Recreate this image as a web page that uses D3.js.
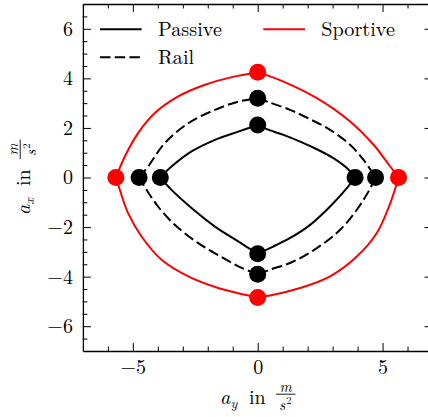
<!DOCTYPE html>
<html>
<head>
<meta charset="utf-8">
<script src="https://cdn.jsdelivr.net/npm/d3@7"></script>
<style>
html,body{margin:0;padding:0;background:#fff;}
svg{display:block;}
</style>
</head>
<body>
<svg id="chart" width="428" height="417"></svg>
<script>
// ---- data (a_y, a_x) in m/s^2, loops go clockwise starting at the top vertex ----
const passiveLoop = [
  [0, 2.12], [0.36, 1.95], [1.03, 1.72], [1.70, 1.45], [2.37, 1.14], [3.03, 0.78], [3.57, 0.38],
  [3.9, 0], [3.57, -0.43], [2.9, -1.17], [2.10, -1.91], [1.30, -2.44], [0.49, -2.85],
  [0, -3.08], [-0.78, -2.58], [-1.71, -1.98], [-2.65, -1.23], [-3.45, -0.5],
  [-3.9, 0], [-3.45, 0.44], [-2.65, 1.05], [-1.71, 1.52], [-0.78, 1.85],
  [0, 2.12]
];
const railLoop = [
  [0, 3.2], [0.49, 3.02], [1.30, 2.73], [2.10, 2.35], [2.9, 1.92], [3.70, 1.32], [4.24, 0.71],
  [4.72, 0], [4.44, -0.56], [3.97, -1.30], [3.3, -2.11], [2.37, -2.85], [1.43, -3.39], [0.49, -3.72],
  [0, -3.9], [-0.64, -3.65], [-1.44, -3.21], [-2.38, -2.65], [-3.32, -1.91], [-3.99, -1.17], [-4.45, -0.5],
  [-4.75, 0], [-4.39, 0.44], [-3.72, 1.39], [-2.78, 2.19], [-1.71, 2.73], [-0.78, 3.06],
  [0, 3.2]
];
const sportiveLoop = [
  [0, 4.25], [1.03, 3.87], [2.37, 3.2], [3.70, 2.26], [4.64, 1.32], [5.11, 0.71],
  [5.64, 0], [5.31, -1.03], [4.77, -2.24], [3.97, -3.19], [2.90, -3.99], [1.70, -4.46], [0.63, -4.73],
  [0, -4.84], [-0.51, -4.73], [-1.58, -4.46], [-2.78, -3.99], [-3.85, -3.32], [-4.65, -2.38], [-5.19, -1.44], [-5.52, -0.5],
  [-5.68, 0], [-5.32, 0.85], [-4.79, 1.79], [-4.12, 2.6], [-3.18, 3.27], [-2.11, 3.74], [-1.04, 4.05],
  [0, 4.25]
];
const seriesNames = ["Passive", "Rail", "Sportive"];
const xTicks = [-5, 0, 5];
const xMinorTicks = [-7, -6, -4, -3, -2, -1, 1, 2, 3, 4, 6, 7];
const yTicks = [-6, -4, -2, 0, 2, 4, 6];
const yMinorTicks = [-6.5, -5.5, -5, -4.5, -3.5, -3, -2.5, -1.5, -1, -0.5, 0.5, 1, 1.5, 2.5, 3, 3.5, 4.5, 5, 5.5, 6.5];
const xDomain = [-7, 7];
const yDomain = [-7, 7];

// ---- layout / style ----
const FONT = '"Latin Modern Roman","CMU Serif","Liberation Serif",serif';
const svg = d3.select("#chart");
const x = d3.scaleLinear().domain(xDomain).range([82.9, 432.5]);
const y = d3.scaleLinear().domain(yDomain).range([351, 4]);
const styles = {
  Passive: {color: "#000", dash: null},
  Rail: {color: "#000", dash: "10.5,4.2"},
  Sportive: {color: "#ff0000", dash: null}
};
const loops = {Passive: passiveLoop, Rail: railLoop, Sportive: sportiveLoop};

// ---- axes (ticks inward on all sides) ----
const fmt = d3.format("");
function addAxis(make, transform, major, minor, showLabels, pad) {
  const gMinor = svg.append("g").attr("transform", transform)
    .call(make().tickValues(minor).tickSizeInner(-4.5).tickSizeOuter(0).tickFormat(""));
  gMinor.select(".domain").remove();
  const g = svg.append("g").attr("transform", transform)
    .call(make().tickValues(major).tickSizeInner(-8).tickSizeOuter(0).tickPadding(pad)
      .tickFormat(showLabels ? fmt : ""));
  g.attr("font-family", FONT).attr("font-size", 20);
  g.select(".domain").attr("stroke-width", 1.3);
  svg.selectAll(".tick line").attr("stroke-width", 1);
}
addAxis(() => d3.axisBottom(x), `translate(0,${y(-7)})`, xTicks, xMinorTicks, true, 9);
addAxis(() => d3.axisTop(x), `translate(0,${y(7)})`, xTicks, xMinorTicks, false, 9);
addAxis(() => d3.axisLeft(y), `translate(${x(-7)},0)`, yTicks, yMinorTicks, true, 10);
addAxis(() => d3.axisRight(y), `translate(${x(7)},0)`, yTicks, yMinorTicks, false, 10);

// ---- curves ----
const line = d3.line().x(d => x(d[0])).y(d => y(d[1])).curve(d3.curveCatmullRom.alpha(0.5));
function segments(loop) {
  const segs = [];
  let cur = [loop[0]];
  for (let i = 1; i < loop.length; i++) {
    cur.push(loop[i]);
    if (loop[i][0] === 0 || loop[i][1] === 0) { segs.push(cur); cur = [loop[i]]; }
  }
  return segs;
}
const plot = svg.append("g");
["Sportive", "Rail", "Passive"].forEach(name => {
  const st = styles[name];
  plot.selectAll(null).data(segments(loops[name])).enter().append("path")
    .attr("d", line).attr("fill", "none").attr("stroke", st.color)
    .attr("stroke-width", 2).attr("stroke-dasharray", st.dash);
});
["Sportive", "Rail", "Passive"].forEach(name => {
  const verts = loops[name].slice(0, -1).filter(d => d[0] === 0 || d[1] === 0);
  plot.selectAll(null).data(verts).enter().append("circle")
    .attr("cx", d => x(d[0])).attr("cy", d => y(d[1])).attr("r", 8.5)
    .attr("fill", styles[name].color);
});

// ---- legend ----
const legendPos = {Passive: [100, 29.3], Rail: [100, 57.3], Sportive: [263.3, 29.3]};
seriesNames.forEach(name => {
  const [lx, ly] = legendPos[name];
  const st = styles[name];
  svg.append("line").attr("x1", lx).attr("x2", lx + 41.7).attr("y1", ly).attr("y2", ly)
    .attr("stroke", st.color).attr("stroke-width", 2).attr("stroke-dasharray", st.dash);
  svg.append("text").attr("x", lx + 58).attr("y", ly + 7).attr("font-size", 20.2).text(name);
});

// ---- axis labels:  a_sub in m/s^2 ----
function axisLabel(transform, sub) {
  const g = svg.append("g").attr("transform", transform);
  g.append("text").attr("x", 0).attr("y", 0).attr("font-size", 20).attr("font-style", "italic").text("a");
  g.append("text").attr("x", 10.5).attr("y", 4).attr("font-size", 14).attr("font-style", "italic").text(sub);
  g.append("text").attr("x", 29).attr("y", 0).attr("font-size", 20).text("in");
  g.append("line").attr("x1", 56).attr("x2", 75.5).attr("y1", -9.8).attr("y2", -9.8)
    .attr("stroke", "#000").attr("stroke-width", 0.9);
  g.append("text").attr("x", 65.7).attr("y", -12.3).attr("text-anchor", "middle")
    .attr("font-size", 15).attr("font-style", "italic").text("m");
  g.append("text").attr("x", 59).attr("y", 5.5).attr("font-size", 15).attr("font-style", "italic").text("s");
  g.append("text").attr("x", 66.3).attr("y", -0.5).attr("font-size", 10.5).text("2");
}
axisLabel("translate(220,404)", "y");
axisLabel("translate(30,215) rotate(-90)", "x");

svg.selectAll("text").style("font-family", FONT).attr("fill", "#000");
</script>
</body>
</html>
